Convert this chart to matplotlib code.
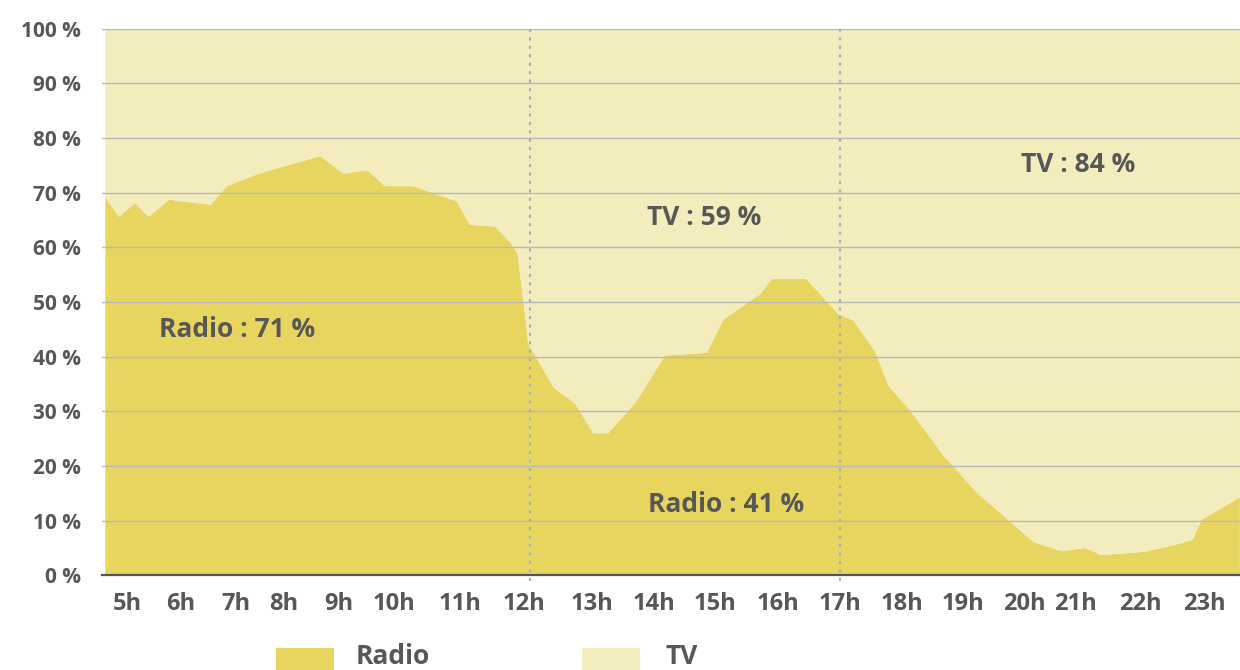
import numpy as np
import matplotlib.pyplot as plt
from matplotlib.patches import Rectangle

plt.rcParams['font.family'] = ['Open Sans', 'DejaVu Sans']

# time of day (hours, position on the axis) and radio share (%)
hours = [5.15, 5.37, 5.63, 5.85, 6.18, 6.85, 7.11, 7.63, 8.62, 8.99, 9.38, 9.66,
         10.12, 10.82, 11.03, 11.44, 11.71, 11.80, 11.95, 11.97, 12.38, 12.73,
         13.02, 13.26, 13.69, 14.18, 14.85, 15.12, 15.71, 15.90, 16.46, 16.97,
         17.21, 17.56, 17.78, 18.13, 18.67, 19.20, 20.12, 20.58, 20.95, 21.22,
         21.92, 22.38, 22.69, 22.83, 23.45]
radio = [69.2, 65.6, 68.1, 65.6, 68.7, 67.8, 71.2, 73.5, 76.7, 73.5, 74.1, 71.2,
         71.2, 68.4, 64.1, 63.8, 60.5, 58.9, 44.8, 42.4, 34.4, 31.4,
         26.0, 26.0, 31.4, 40.2, 40.7, 46.8, 51.4, 54.2, 54.2, 47.8,
         46.7, 41.1, 34.7, 30.2, 21.9, 15.2, 6.1, 4.4, 5.0, 3.7,
         4.3, 5.5, 6.5, 10.1, 14.3]
tv = [100 - r for r in radio]

tick_pos = [5.50, 6.37, 7.26, 8.03, 8.92, 9.81, 10.87, 11.90, 13.0, 14.0,
            14.98, 16.0, 17.0, 18.0, 18.98, 19.98, 20.79, 21.85, 22.87]
tick_labels = ['5h', '6h', '7h', '8h', '9h', '10h', '11h', '12h', '13h', '14h',
               '15h', '16h', '17h', '18h', '19h', '20h', '21h', '22h', '23h']
y_ticks = [0, 10, 20, 30, 40, 50, 60, 70, 80, 90, 100]
y_labels = ['%d %%' % v for v in y_ticks]

splits = [12, 17]
notes = ['Radio : 71 %', 'TV : 59 %', 'TV : 84 %', 'Radio : 41 %']
note_x = [7.27, 14.81, 20.84, 15.16]
note_y = [45.0, 65.4, 75.1, 12.9]

c_radio = '#e8d55f'
c_tv = '#f3ecbd'
c_text = '#575757'
c_grid = '#b8b8bb'

fig = plt.figure(figsize=(12.4, 6.7), dpi=100)
W, H = 1240, 670
ax = fig.add_axes([101.7 / W, (H - 575.3) / H, (W - 101.7) / W, (575.3 - 28.7) / H])

ax.stackplot(hours, radio, tv, colors=[c_radio, c_tv], lw=0, zorder=1)

for v in y_ticks[1:]:
    ax.axhline(v, color=c_grid, lw=1.0, zorder=2)
for s in splits:
    ax.axvline(s, ymin=-0.008, ymax=1, color='#a9acb4', lw=1.6,
               ls=(0, (0.6, 3.2)), dash_capstyle='round', clip_on=False, zorder=3)

ax.set_xlim(12 + (101.7 - 530) / 62, 12 + (1240 - 530) / 62)
ax.set_ylim(0, 100)

ax.set_xticks(tick_pos)
ax.set_xticklabels(tick_labels, fontsize=17, fontweight='bold', color=c_text)
ax.set_yticks(y_ticks)
ax.set_yticklabels(y_labels, fontsize=15, fontweight='bold', color=c_text)
ax.tick_params(axis='x', length=0, pad=12)
ax.tick_params(axis='y', length=0, pad=15)

for sp in ['top', 'right', 'left']:
    ax.spines[sp].set_visible(False)
ax.spines['bottom'].set_color('#555555')
ax.spines['bottom'].set_linewidth(1.6)
ax.spines['bottom'].set_zorder(4)

for t, x, y in zip(notes, note_x, note_y):
    ax.text(x, y, t, ha='center', va='center', fontsize=19, fontweight='bold',
            color=c_text, zorder=5)

# legend at the bottom edge
leg_items = [('Radio', c_radio, 276, 356), ('TV', c_tv, 581.7, 665)]
for name, col, x0, tx in leg_items:
    fig.add_artist(Rectangle((x0 / W, -0.02), 58 / W, (H - 648) / H + 0.02,
                             transform=fig.transFigure, color=col, lw=0))
    fig.text(tx / W, 0.5 / H, name, fontsize=19, fontweight='bold',
             color=c_text, ha='left', va='bottom')

fig.savefig('out.png', dpi=100)
